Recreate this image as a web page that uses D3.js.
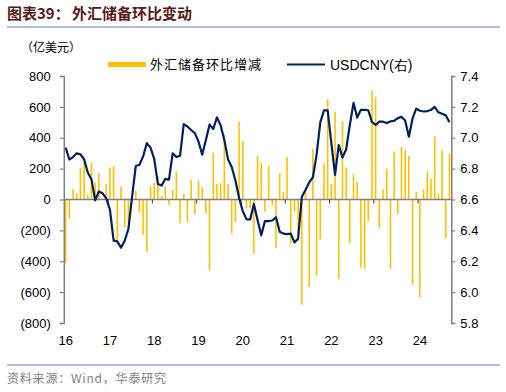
<!DOCTYPE html>
<meta charset="utf-8">
<style>
body{margin:0;background:#fff;}
svg{display:block;font-family:Arial,"Liberation Sans",sans-serif;}
.cjk{font-family:"Noto Sans CJK SC",sans-serif;}
</style>
<body>
<svg id="chart" width="506" height="392"></svg>
<script src="https://d3js.org/d3.v7.min.js"></script>
<script>
// months from Dec 2016 to Aug 2025, one value per month
var reserveChange = [
  -411, -123, 69, 40, 204, 240, 32, 239, 108, 170, 6, 99,
  207, 215, -270, 83, -180, -142, 15, 58, -82, -227, -339, 86,
  110, 152, 23, 86, -38, 61, 182, -155, 35, -147, 128, -96,
  123, 79, -89, -461, 304, 102, 106, 420, 100, -220, -146, 505,
  380, -58, -57, -351, 282, 236, -78, 219, -38, -315, 170, 48,
  278, -286, -78, -270, -683, 81, -565, 328, -492, -259, 234, 651,
  102, 568, -513, 507, 209, -283, 165, 113, -442, -450, -139, 706,
  662, -187, 65, 199, -449, 312, -96, 340, 318, 282, -553, 48,
  -635, 66, 182, 135, 410, 36, 321, -251, 299
];
var usdcny = [
  6.937, 6.859, 6.875, 6.899, 6.893, 6.86, 6.775, 6.73, 6.595, 6.652, 6.64, 6.607,
  6.534, 6.334, 6.329, 6.288, 6.333, 6.408, 6.617, 6.817, 6.825, 6.879, 6.965, 6.936,
  6.863, 6.700, 6.690, 6.734, 6.729, 6.899, 6.875, 6.884, 7.088, 7.073, 7.050, 7.030,
  6.976, 6.890, 6.985, 7.085, 7.057, 7.132, 7.080, 6.985, 6.861, 6.810, 6.723, 6.610,
  6.525, 6.471, 6.471, 6.571, 6.467, 6.368, 6.460, 6.460, 6.464, 6.485, 6.391, 6.379,
  6.376, 6.379, 6.322, 6.348, 6.618, 6.661, 6.711, 6.744, 6.891, 7.100, 7.177, 7.177,
  6.965, 6.760, 6.952, 6.872, 6.924, 7.082, 7.226, 7.131, 7.181, 7.180, 7.178, 7.102,
  7.083, 7.104, 7.104, 7.095, 7.106, 7.109, 7.127, 7.135, 7.112, 7.007, 7.125, 7.188,
  7.175, 7.170, 7.173, 7.180, 7.200, 7.165, 7.155, 7.145, 7.100
];
var yearLabels = ["16", "17", "18", "19", "20", "21", "22", "23", "24"];
var leftTicks = [800, 600, 400, 200, 0, -200, -400, -600, -800];
var rightTicks = [7.4, 7.2, 7.0, 6.8, 6.6, 6.4, 6.2, 6.0, 5.8];

var svg = d3.select("#chart");
var plotLeft = 63.8, plotRight = 451.3, plotTop = 76, plotBottom = 323;

var x = d3.scaleBand()
  .domain(d3.range(reserveChange.length))
  .range([plotLeft, plotRight]);
var y = d3.scaleLinear().domain([-800, 800]).range([plotBottom, plotTop]);
var y2 = d3.scaleLinear().domain([5.8, 7.4]).range([plotBottom, plotTop]);
var bw = x.bandwidth();

// title
svg.append("text").attr("class", "cjk")
  .attr("x", 7).attr("y", 19)
  .style("font-size", "15px").style("font-weight", "bold")
  .attr("fill", "#5a1818")
  .text("图表39：");
svg.append("text").attr("class", "cjk")
  .attr("x", 72).attr("y", 19)
  .style("font-size", "15px").style("font-weight", "bold")
  .attr("fill", "#5a1818")
  .text("外汇储备环比变动");
svg.append("line")
  .attr("x1", 7).attr("x2", 500).attr("y1", 27).attr("y2", 27)
  .attr("stroke", "#5b7fb8").attr("stroke-width", 1.2);

svg.append("text").attr("class", "cjk")
  .attr("x", 21).attr("y", 52)
  .style("font-size", "12px").attr("fill", "#000")
  .text("（亿美元）");

// legend
svg.append("rect").attr("x", 108).attr("y", 62).attr("width", 38).attr("height", 5)
  .attr("fill", "#FFC000");
svg.append("text").attr("class", "cjk")
  .attr("x", 150).attr("y", 69)
  .style("font-size", "13px").style("letter-spacing", "1px").attr("fill", "#000")
  .text("外汇储备环比增减");
svg.append("line").attr("x1", 287).attr("x2", 325).attr("y1", 64.5).attr("y2", 64.5)
  .attr("stroke", "#002060").attr("stroke-width", 2);
svg.append("text")
  .attr("x", 330).attr("y", 69.5)
  .style("font-size", "14px").attr("fill", "#000")
  .text("USDCNY(右)");

// bars
svg.append("g").selectAll("rect")
  .data(reserveChange)
  .join("rect")
  .attr("x", function(d, i) { return x(i) + bw / 2 - 0.8; })
  .attr("width", 1.6)
  .attr("y", function(d) { return Math.min(y(d), y(0)); })
  .attr("height", function(d) { return Math.abs(y(d) - y(0)); })
  .attr("fill", "#FFC000");

// zero line with year ticks
svg.append("line")
  .attr("x1", plotLeft).attr("x2", plotRight).attr("y1", y(0)).attr("y2", y(0))
  .attr("stroke", "#808080").attr("stroke-width", 1.5);
svg.append("g").selectAll("line")
  .data(yearLabels.slice(1))
  .join("line")
  .attr("x1", function(d, i) { return x((i + 1) * 12); })
  .attr("x2", function(d, i) { return x((i + 1) * 12); })
  .attr("y1", y(0)).attr("y2", y(0) + 4)
  .attr("stroke", "#333").attr("stroke-width", 1);

// line
var line = d3.line()
  .x(function(d, i) { return x(i) + bw / 2; })
  .y(function(d) { return y2(d); });
svg.append("path")
  .datum(usdcny)
  .attr("d", line)
  .attr("fill", "none")
  .attr("stroke", "#002060")
  .attr("stroke-width", 2.2)
  .attr("stroke-linejoin", "round");

// axes
var fmtLeft = function(d) { return d < 0 ? "(" + (-d) + ")" : d; };
var gl = svg.append("g")
  .attr("transform", "translate(" + plotLeft + ",0)")
  .call(d3.axisLeft(y).tickValues(leftTicks).tickFormat(fmtLeft).tickSize(4).tickPadding(9));
var gr = svg.append("g")
  .attr("transform", "translate(" + plotRight + ",0)")
  .call(d3.axisRight(y2).tickValues(rightTicks).tickFormat(d3.format(".1f")).tickSize(4).tickPadding(5));
[gl, gr].forEach(function(g) {
  g.select(".domain").attr("stroke", "#808080").attr("stroke-width", 1.5);
  g.selectAll(".tick line").attr("stroke", "#808080").attr("stroke-width", 1.2);
  g.selectAll("text").style("font-size", "13px").style("font-family", "Arial,'Liberation Sans',sans-serif").attr("fill", "#000");
});

// year labels
svg.append("g").selectAll("text")
  .data(yearLabels)
  .join("text")
  .attr("x", function(d, i) { return x(i * 12) + bw / 2; })
  .attr("y", 345)
  .attr("text-anchor", "middle")
  .style("font-size", "13px")
  .text(function(d) { return d; });

// footer
svg.append("line")
  .attr("x1", 7).attr("x2", 500).attr("y1", 365).attr("y2", 365)
  .attr("stroke", "#5b7fb8").attr("stroke-width", 1.2);
svg.append("text").attr("class", "cjk")
  .attr("x", 7).attr("y", 383)
  .style("font-size", "12px").style("letter-spacing", "0.8px").attr("fill", "#7f7f7f")
  .text("资料来源：Wind，华泰研究");
</script>
</body>
